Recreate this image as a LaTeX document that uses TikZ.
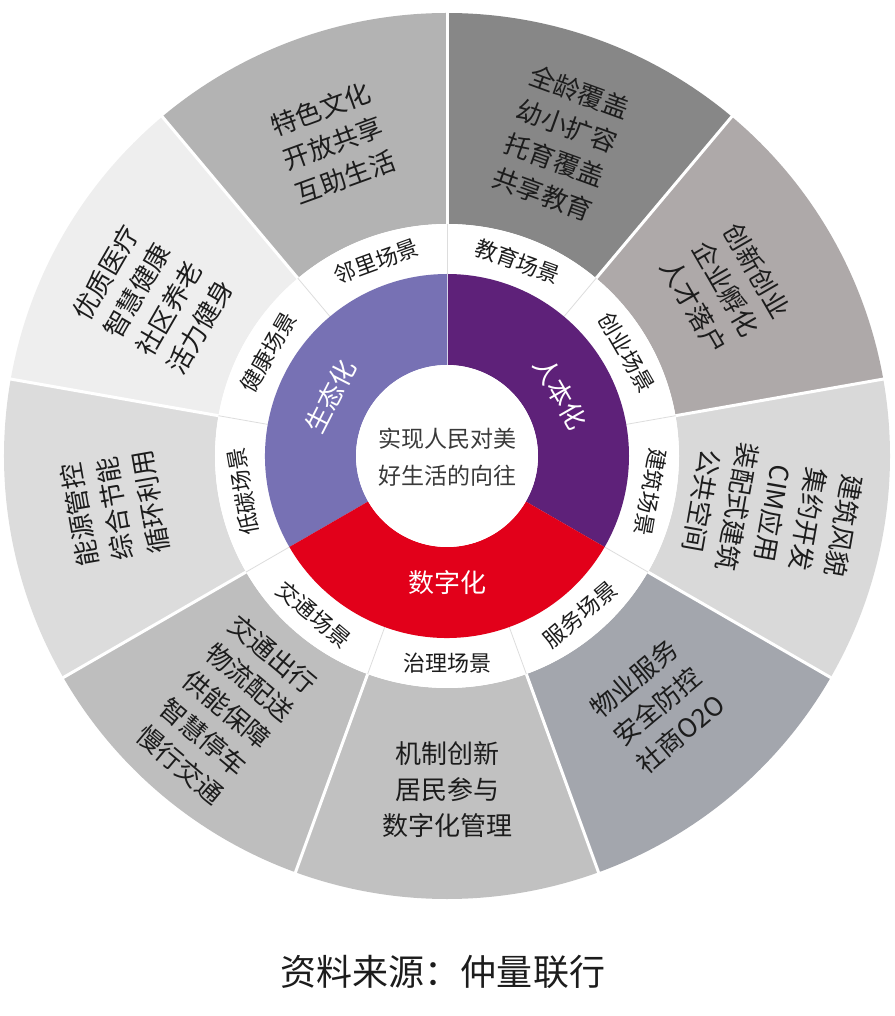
\documentclass[tikz,border=0pt]{standalone}
\usepackage{fontspec}
\setmainfont{Noto Sans CJK SC}
\definecolor{segA}{HTML}{B3B3B3}
\definecolor{segB}{HTML}{878787}
\definecolor{segC}{HTML}{AEA9A9}
\definecolor{segD}{HTML}{D9D9D9}
\definecolor{segE}{HTML}{A3A6AD}
\definecolor{segF}{HTML}{C1C1C1}
\definecolor{segG}{HTML}{BEBEBE}
\definecolor{segH}{HTML}{DCDCDC}
\definecolor{segI}{HTML}{EEEEEE}
\definecolor{ecoc}{HTML}{7771B4}
\definecolor{humc}{HTML}{5E2179}
\definecolor{digc}{HTML}{E2001A}
\definecolor{sepgray}{HTML}{DDDDDD}
\definecolor{txtdark}{HTML}{1C1C1C}
\definecolor{txtmid}{HTML}{3A3A3A}
\begin{document}
\begin{tikzpicture}[x=1pt,y=1pt,
  outertext/.style={align=center, font=\fontsize{26}{36}\selectfont, text=txtdark, inner sep=0pt},
  scenetext/.style={font=\fontsize{22}{26}\selectfont, text=txtdark, inner sep=0pt},
  ringtext/.style={font=\fontsize{26}{30}\selectfont, text=white, inner sep=0pt},
  centertext/.style={align=center, font=\fontsize{23}{37}\selectfont, text=txtmid, inner sep=0pt},
  captiontext/.style={font=\fontsize{36}{40}\selectfont, text=txtdark, inner sep=0pt},
  whitesep/.style={draw=white, line width=3pt},
  graysep/.style={draw=sepgray, line width=0.8pt}]
\useasboundingbox (-447,-560) rectangle (447,456);
\def\Rout{443pt}
\def\Rmid{232pt}
\def\Rring{182pt}
\def\Rin{91pt}
% outer segments
\foreach \a/\b/\c in {90/130/segA, 50/90/segB, 10/50/segC, -30/10/segD, -70/-30/segE, -110/-70/segF, -150/-110/segG, 170/210/segH, 130/170/segI}{
  \fill[\c] (\a:\Rmid) arc[start angle=\a, end angle=\b, radius=\Rmid] -- (\b:\Rout) arc[start angle=\b, end angle=\a, radius=\Rout] -- cycle;
}
% scene ring
\fill[white] (0,0) circle[radius=\Rmid];
\foreach \a in {90,50,10,-30,-70,-110,-150,170,130}{
  \draw[whitesep] (\a:\Rmid) -- (\a:\Rout+2pt);
  \draw[graysep] (\a:\Rring) -- (\a:\Rmid);
}
% coloured ring
\fill[ecoc] (90:\Rin) arc[start angle=90, end angle=210, radius=\Rin] -- (210:\Rring) arc[start angle=210, end angle=90, radius=\Rring] -- cycle;
\fill[humc] (-30:\Rin) arc[start angle=-30, end angle=90, radius=\Rin] -- (90:\Rring) arc[start angle=90, end angle=-30, radius=\Rring] -- cycle;
\fill[digc] (210:\Rin) arc[start angle=210, end angle=330, radius=\Rin] -- (330:\Rring) arc[start angle=330, end angle=210, radius=\Rring] -- cycle;
\draw[white!70!ecoc, line width=0.5pt] (90:\Rin) -- (90:\Rring);
\fill[white] (0,0) circle[radius=\Rin];
% centre
\node[centertext] (core) at (0,-1) {实现人民对美\\好生活的向往};
% ring labels
\node[ringtext, rotate=63] (eco) at (153:131pt) {生态化};
\node[ringtext, rotate=-60] (hum) at (29:130pt) {人本化};
\node[ringtext] (dig) at (-90:127pt) {数字化};
% scene labels
\foreach \ang/\rot/\txt [count=\i] in {110/20/邻里场景, 70/-20/教育场景, 30/-60/创业场景, -10/-100/建筑场景, -50/40/服务场景, -90/0/治理场景, -130/-40/交通场景, 190/100/低碳场景, 150/60/健康场景}{
  \node[scenetext, rotate=\rot] (scene\i) at (\ang:207pt) {\txt};
}
% outer texts
\node[outertext, rotate=20] (out1) at (110:333pt) {特色文化\\开放共享\\互助生活};
\node[outertext, rotate=-20] (out2) at (70:333pt) {全龄覆盖\\幼小扩容\\托育覆盖\\共享教育};
\node[outertext, rotate=-60] (out3) at (31:325pt) {创新创业\\企业孵化\\人才落户};
\node[outertext, rotate=-100] (out4) at (-10:331pt) {建筑风貌\\集约开发\\CIM应用\\装配式建筑\\公共空间};
\node[outertext, rotate=40] (out5) at (-50:327pt) {物业服务\\安全防控\\社商O2O};
\node[outertext] (out6) at (-90:334pt) {机制创新\\居民参与\\数字化管理};
\node[outertext, rotate=-40] (out7) at (-131:336pt) {交通出行\\物流配送\\供能保障\\智慧停车\\慢行交通};
\node[outertext, rotate=100] (out8) at (189:336pt) {能源管控\\综合节能\\循环利用};
\node[outertext, rotate=60] (out9) at (152:333pt) {优质医疗\\智慧健康\\社区养老\\活力健身};
% caption
\node[captiontext] (caption) at (-4,-516) {资料来源：仲量联行};
\end{tikzpicture}
\end{document}
